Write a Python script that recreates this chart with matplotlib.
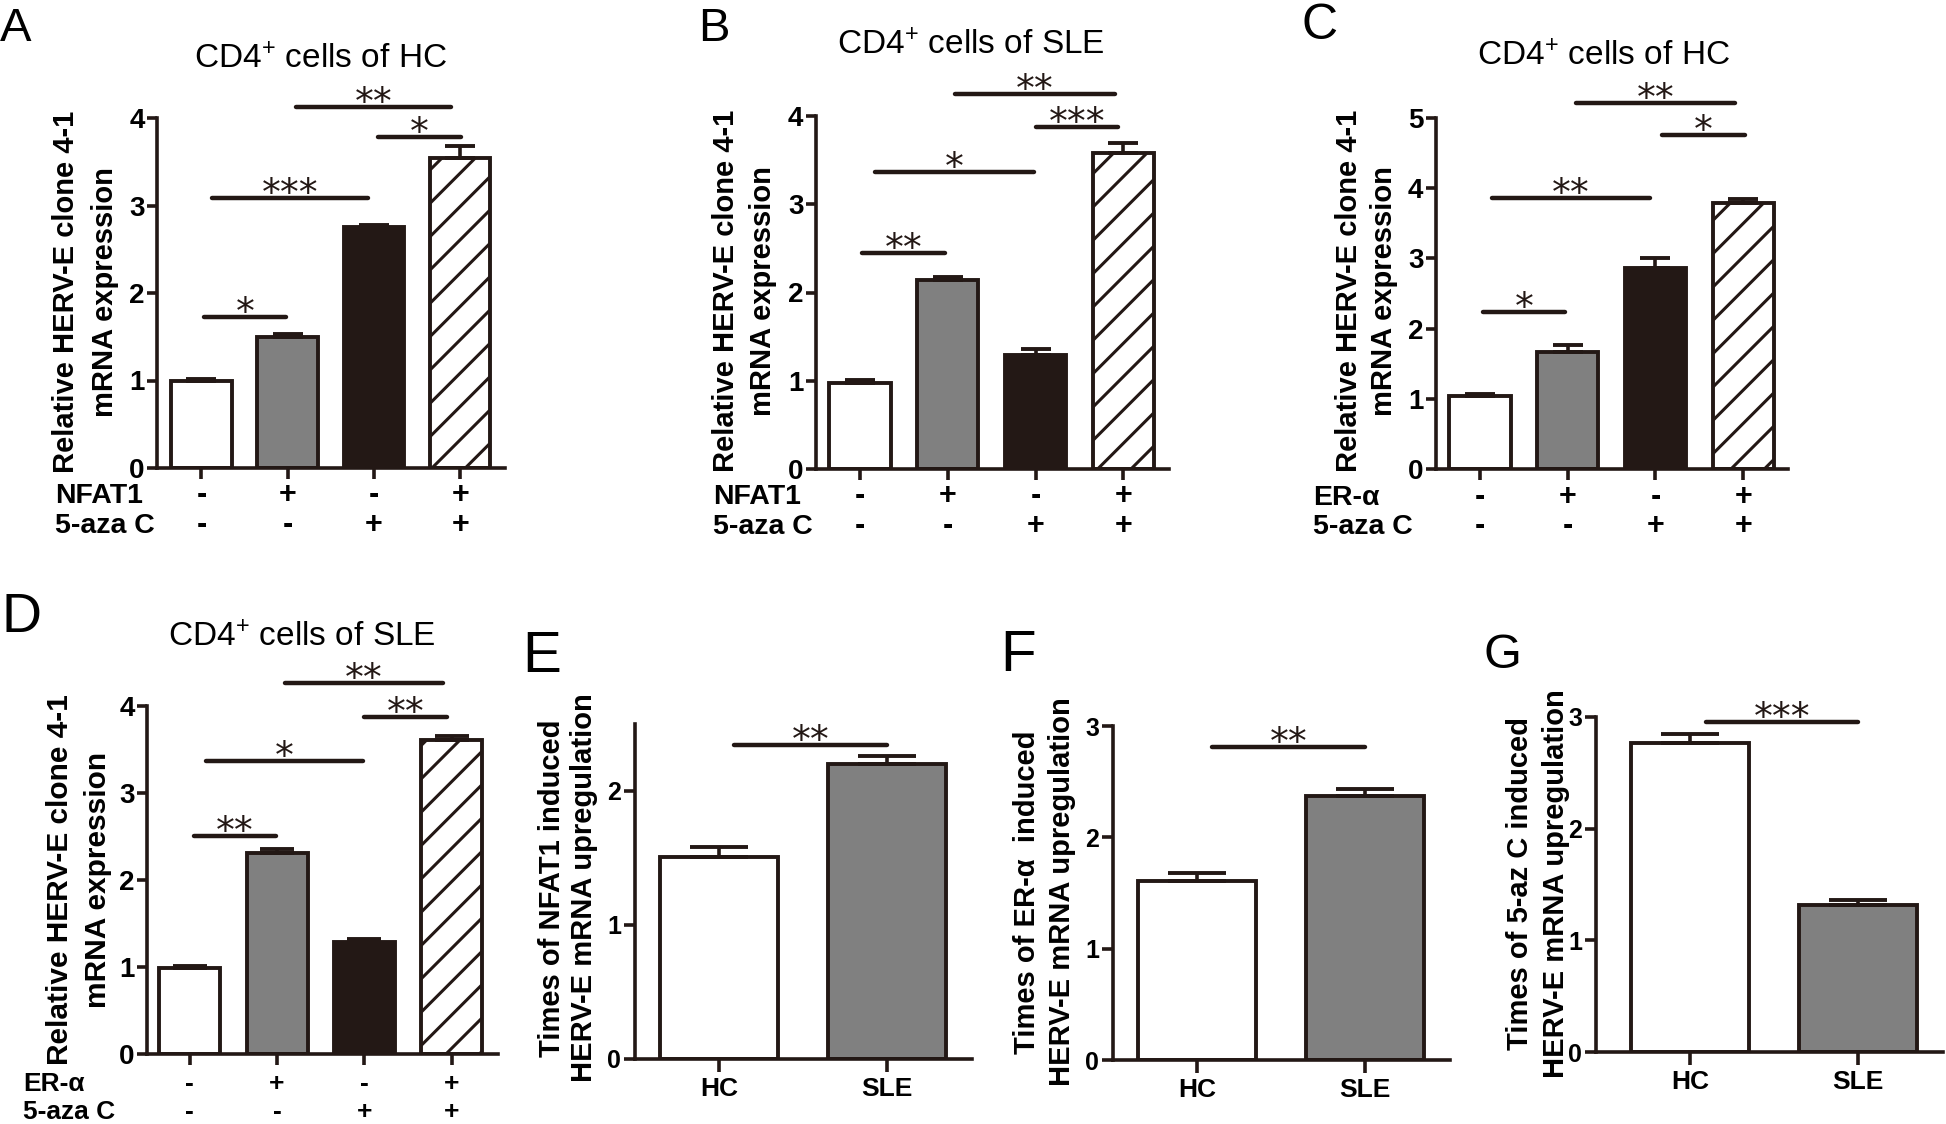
import numpy as np
import matplotlib
matplotlib.use('Agg')
import matplotlib.pyplot as plt

plt.rcParams['font.family'] = ['Liberation Sans', 'DejaVu Sans']
plt.rcParams['mathtext.fontset'] = 'custom'
plt.rcParams['mathtext.rm'] = 'Liberation Sans'
plt.rcParams['mathtext.default'] = 'regular'
plt.rcParams['hatch.linewidth'] = 2.2

# ---------------- data ----------------
row1_signs = ['-', '+', '-', '+']
row2_signs = ['-', '-', '+', '+']
row1_label_AB = 'NFAT1'
row1_label_CD = 'ER-α'
row2_label = '5-aza C'
groups = ['HC', 'SLE']

A_mean = [1.00, 1.50, 2.75, 3.54]
A_err = [0.02, 0.03, 0.03, 0.14]
B_mean = [0.98, 2.14, 1.29, 3.58]
B_err = [0.03, 0.03, 0.07, 0.11]
C_mean = [1.04, 1.66, 2.87, 3.79]
C_err = [0.03, 0.11, 0.13, 0.05]
D_mean = [0.985, 2.31, 1.29, 3.61]
D_err = [0.025, 0.05, 0.03, 0.05]
E_mean = [1.51, 2.20]
E_err = [0.07, 0.06]
F_mean = [1.61, 2.37]
F_err = [0.07, 0.06]
G_mean = [2.77, 1.32]
G_err = [0.08, 0.04]

# significance bars: (x start, x end, height, stars)
A_sig = [(0.03, 0.98, 1.73, '*'), (0.12, 1.93, 3.09, '***'), (2.05, 3.01, 3.78, '*'), (1.10, 2.89, 4.13, '**')]
B_sig = [(0.02, 0.97, 2.45, '**'), (0.17, 1.98, 3.37, '*'), (2.00, 2.94, 3.87, '***'), (1.08, 2.90, 4.25, '**')]
C_sig = [(0.04, 0.97, 2.23, '*'), (0.14, 1.94, 3.86, '**'), (2.07, 3.02, 4.76, '*'), (1.09, 2.91, 5.21, '**')]
D_sig = [(0.05, 0.99, 2.51, '**'), (0.18, 1.985, 3.37, '*'), (2.00, 2.95, 3.87, '**'), (1.09, 2.90, 4.26, '**')]
E_sig = [(0.09, 1.0, 2.34, '**')]
F_sig = [(0.09, 1.0, 2.81, '**')]
G_sig = [(0.095, 1.0, 2.955, '***')]

# ---------------- figure ----------------
W, H = 1946, 1124
fig = plt.figure(figsize=(W / 100, H / 100), dpi=100)
INK = '#231815'
GRAY = '#808080'


def fx(x):
    return x / W


def fy(y):
    return 1 - y / H


def make_axes(l, r, t, b):
    return fig.add_axes([fx(l), fy(b), (r - l) / W, (b - t) / H])


def draw_panel(ax, means, errs, fills, hatches, xlim, ylim, yticks, sig,
               tick_fs, ylen, xlen, capsize, xlabels=None):
    x = np.arange(len(means))
    bars = ax.bar(x, means, width=0.7, color=fills, edgecolor=INK,
                  linewidth=2.8, zorder=2)
    for p, h in zip(bars.patches, hatches):
        if h:
            p.set_hatch(h)
    ax.errorbar(x, means, yerr=[np.zeros(len(means)), errs], fmt='none',
                ecolor=INK, elinewidth=2.6, capsize=capsize, capthick=2.8,
                zorder=3)
    ax.set_xlim(*xlim)
    ax.set_ylim(*ylim)
    for s in ['top', 'right']:
        ax.spines[s].set_visible(False)
    for s in ['left', 'bottom']:
        ax.spines[s].set_linewidth(2.6)
        ax.spines[s].set_color(INK)
    ax.set_yticks(yticks)
    ax.set_yticklabels([str(t) for t in yticks], fontsize=tick_fs,
                       fontweight='bold')
    ax.set_xticks(x)
    if xlabels is None:
        ax.set_xticklabels([''] * len(x))
    else:
        ax.set_xticklabels(xlabels, fontsize=19, fontweight='bold')
    ax.tick_params(axis='y', length=ylen, width=2.6, color=INK, pad=2)
    ax.tick_params(axis='x', length=xlen, width=2.6, color=INK, pad=4)
    ax.patch.set_visible(False)
    for x1, x2, y, lab in sig:
        ax.plot([x1, x2], [y, y], color=INK, lw=3.2, solid_capstyle='round',
                clip_on=False, zorder=4)
        ax.annotate(lab, xy=((x1 + x2) / 2, y), xytext=(0, -7),
                    textcoords='offset pixels', ha='center', va='baseline',
                    fontsize=27, family='DejaVu Sans', color=INK,
                    annotation_clip=False)


def signs(ax, off1, off2, fs=22):
    for i, (s1, s2) in enumerate(zip(row1_signs, row2_signs)):
        ax.annotate(s1, xy=(i, 0), xycoords=('data', 'axes fraction'),
                    xytext=(0, off1), textcoords='offset pixels',
                    ha='center', va='baseline', fontsize=fs, fontweight='bold')
        ax.annotate(s2, xy=(i, 0), xycoords=('data', 'axes fraction'),
                    xytext=(0, off2), textcoords='offset pixels',
                    ha='center', va='baseline', fontsize=fs, fontweight='bold')


def ylab(lines, xs, yc, fs):
    for t, x in zip(lines, xs):
        fig.text(fx(x), fy(yc), t, rotation=90, ha='center', va='center',
                 fontsize=fs, fontweight='bold')


four_fill = ['white', GRAY, INK, 'white']
four_hatch = [None, None, None, '/']
two_fill = ['white', GRAY]
two_hatch = [None, None]
ylab4 = ['Relative HERV-E clone 4-1', 'mRNA expression']

# Panel A
axA = make_axes(157, 505, 118, 468)
draw_panel(axA, A_mean, A_err, four_fill, four_hatch, (-0.515, 3.52), (0, 4),
           [0, 1, 2, 3, 4], A_sig, 20, 7, 8, 11)
signs(axA, -35, -65)
fig.text(fx(55), fy(503), row1_label_AB, ha='left', va='baseline', fontsize=20.5, fontweight='bold')
fig.text(fx(55), fy(533), row2_label, ha='left', va='baseline', fontsize=20.5, fontweight='bold')
ylab(ylab4, [66, 105], 292, 21)
fig.text(fx(321), fy(60), 'CD4$^{+}$ cells of HC', ha='center', va='center', fontsize=24)

# Panel B
axB = make_axes(816, 1169, 116, 469)
draw_panel(axB, B_mean, B_err, four_fill, four_hatch, (-0.50, 3.52), (0, 4),
           [0, 1, 2, 3, 4], B_sig, 20, 7, 8, 11)
signs(axB, -35, -65)
fig.text(fx(713), fy(504), row1_label_AB, ha='left', va='baseline', fontsize=20.5, fontweight='bold')
fig.text(fx(713), fy(534), row2_label, ha='left', va='baseline', fontsize=20.5, fontweight='bold')
ylab(ylab4, [726, 763], 291, 21)
fig.text(fx(971), fy(46), 'CD4$^{+}$ cells of SLE', ha='center', va='center', fontsize=24)

# Panel C
axC = make_axes(1436, 1788, 118, 469)
draw_panel(axC, C_mean, C_err, four_fill, four_hatch, (-0.50, 3.51), (0, 5),
           [0, 1, 2, 3, 4, 5], C_sig, 20, 7, 8, 11)
signs(axC, -36, -65)
fig.text(fx(1313), fy(505), row1_label_CD, ha='left', va='baseline', fontsize=20.5, fontweight='bold')
fig.text(fx(1313), fy(534), row2_label, ha='left', va='baseline', fontsize=20.5, fontweight='bold')
ylab(ylab4, [1349, 1384], 291, 21)
fig.text(fx(1604), fy(57), 'CD4$^{+}$ cells of HC', ha='center', va='center', fontsize=24)

# Panel D
axD = make_axes(147, 498, 706, 1054)
draw_panel(axD, D_mean, D_err, four_fill, four_hatch, (-0.49, 3.53), (0, 4),
           [0, 1, 2, 3, 4], D_sig, 20, 7, 8, 12)
signs(axD, -37, -65, fs=19)
fig.text(fx(23), fy(1091), row1_label_CD, ha='left', va='baseline', fontsize=19, fontweight='bold')
fig.text(fx(23), fy(1119), row2_label, ha='left', va='baseline', fontsize=19, fontweight='bold')
ylab(ylab4, [60, 98], 880, 21.5)
fig.text(fx(302), fy(638), 'CD4$^{+}$ cells of SLE', ha='center', va='center', fontsize=24)

# Panel E
axE = make_axes(635, 972, 724, 1059)
draw_panel(axE, E_mean, E_err, two_fill, two_hatch, (-0.5, 1.506), (0, 2.5),
           [0, 1, 2], E_sig, 18, 8, 9, 21, xlabels=groups)
ylab(['Times of NFAT1 induced', 'HERV-E mRNA upregulation'], [552, 584], 888, 21)

# Panel F
axF = make_axes(1113, 1450, 726, 1060)
draw_panel(axF, F_mean, F_err, two_fill, two_hatch, (-0.5, 1.506), (0, 3),
           [0, 1, 2, 3], F_sig, 18, 8, 9, 21, xlabels=groups)
ylab(['Times of ER-α  induced', 'HERV-E mRNA upregulation'], [1027, 1062], 892, 21)

# Panel G
axG = make_axes(1596, 1943, 717, 1052)
draw_panel(axG, G_mean, G_err, two_fill, two_hatch, (-0.56, 1.506), (0, 3),
           [0, 1, 2, 3], G_sig, 18, 8, 9, 21, xlabels=groups)
ylab(['Times of 5-az C induced', 'HERV-E mRNA upregulation'], [1520, 1556], 884, 21)

# Panel letters
for lab, x, yb, fs in [('A', 0, 41, 34), ('B', 698, 41, 34), ('C', 1302, 39, 36),
                       ('D', 1, 632, 40), ('E', 522, 672, 42), ('F', 1000, 671, 42),
                       ('G', 1483, 668, 35)]:
    fig.text(fx(x), fy(yb), lab, ha='left', va='baseline', fontsize=fs)

fig.savefig('out.png', dpi=100)
